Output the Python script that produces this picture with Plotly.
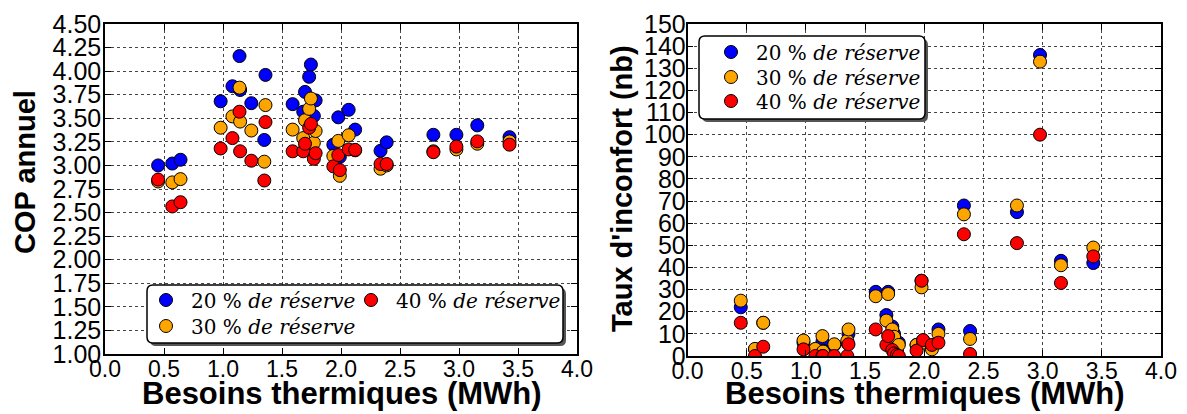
import plotly.graph_objects as go

# Besoins thermiques (MWh) for each simulated case
besoins = [0.45, 0.57, 0.64, 0.98, 1.08, 1.14, 1.145, 1.24, 1.35, 1.36,
           1.59, 1.68, 1.695, 1.73, 1.745, 1.77, 1.785, 1.935, 1.977, 1.99,
           2.065, 2.12, 2.335, 2.387, 2.783, 2.978, 3.155, 3.428]

# COP annuel
cop_20 = [3.00, 3.02, 3.06, 3.68, 3.84, 4.16, 3.80, 3.66, 3.27, 3.96,
          3.65, 3.57, 3.78, 3.94, 4.07, 3.525, 3.69, 3.22, 3.51, 3.09,
          3.59, 3.38, 3.155, 3.245, 3.325, 3.325, 3.425, 3.30]
cop_30 = [2.83, 2.82, 2.855, 3.40, 3.52, 3.825, 3.465, 3.37, 3.04, 3.64,
          3.38, 3.29, 3.48, 3.60, 3.71, 3.24, 3.365, 3.10, 3.26, 2.89,
          3.32, 3.16, 2.965, 3.00, 3.15, 3.17, 3.23, 3.255]
cop_40 = [2.85, 2.565, 2.61, 3.18, 3.29, 3.57, 3.15, 3.05, 2.84, 3.46,
          3.15, 3.15, 3.23, 3.40, 3.44, 3.07, 3.13, 2.99, 3.11, 2.95,
          3.17, 3.165, 3.015, 3.015, 3.14, 3.20, 3.255, 3.22]

# Taux d'inconfort (nb)
inc_20 = [22, 3, 15, 6, 3, 6.5, 2.4, 5, 6, 10,
          29, 18.5, 29, 13.3, 10, 4, 6, 5, 34, 7,
          4, 12, 68, 11.3, 65, 136, 43, 42]
inc_30 = [25, 3.2, 15, 7, 3.2, 9, 2, 5.3, 6.9, 12,
          27, 16, 28, 12, 8.7, 2.7, 5, 5, 31, 6,
          3, 10, 64, 7.7, 68, 133, 41, 49]
inc_40 = [15, 0, 4.2, 3, 0, 0, 0, 0, 0, 5.3,
          12, 5, 9, 2.7, 1.2, 0.5, 0, 2.4, 34, 7.2,
          5, 6, 55, 0.9, 51, 100, 33, 45]

series_names = ["20 % <i>de réserve</i>", "30 % <i>de réserve</i>", "40 % <i>de réserve</i>"]
colors = ["#0000ff", "#ffa500", "#ff0000"]

W, H = 1187, 414

def px(x):
    return x / W

def py(y):
    return 1 - y / H

fig = go.Figure()

left_legends = ["legend", "legend4", "legend3"]      # 20 (row1 col1), 30 (row2), 40 (row1 col2)
right_legends = ["legend2", "legend5", "legend6"]
for name, col, vals, lg in zip(series_names, colors, [cop_20, cop_30, cop_40], left_legends):
    fig.add_trace(go.Scatter(
        x=besoins, y=vals, mode="markers", name=name,
        marker=dict(color=col, size=13, line=dict(color="black", width=1)),
        xaxis="x", yaxis="y", legend=lg))

for name, col, vals, lg in zip(series_names, colors, [inc_20, inc_30, inc_40], right_legends):
    fig.add_trace(go.Scatter(
        x=besoins, y=vals, mode="markers", name=name,
        marker=dict(color=col, size=13, line=dict(color="black", width=1)),
        xaxis="x2", yaxis="y2", legend=lg))

axis_common = dict(
    showline=True, linecolor="black", linewidth=1.5, mirror="allticks",
    ticks="inside", ticklen=6, tickcolor="black", tickwidth=1,
    showgrid=True, gridcolor="#444", griddash="dot", gridwidth=1,
    zeroline=False, color="black", automargin=False,
)
sans = "Liberation Sans, Arial, sans-serif"
serif = "DejaVu Serif, serif"

def leg(x_text_start, y_center):
    return dict(x=px(x_text_start - 49), y=py(y_center), xanchor="left", yanchor="middle",
                orientation="v", itemwidth=40,
                font=dict(family=serif, size=20, color="black"),
                bgcolor="rgba(0,0,0,0)", borderwidth=0)

fig.update_layout(
    template="none",
    width=W, height=H,
    margin=dict(l=0, r=0, t=0, b=0, autoexpand=False),
    paper_bgcolor="white", plot_bgcolor="white",
    font=dict(family=sans, color="black"),
    xaxis=dict(domain=[px(105), px(577)], range=[0, 4], dtick=0.5, tickformat=".1f",
               anchor="y", tickfont=dict(size=23), ticklabelstandoff=-6, **axis_common),
    yaxis=dict(domain=[py(354), py(24)], range=[1, 4.5], dtick=0.25, tickformat=".2f",
               anchor="x", tickfont=dict(size=25), ticklabelstandoff=-3, **axis_common),
    xaxis2=dict(domain=[px(687.5), px(1161)], range=[0, 4], dtick=0.5, tickformat=".1f",
                anchor="y2", tickfont=dict(size=23), ticklabelstandoff=-6, **axis_common),
    yaxis2=dict(domain=[py(356), py(24)], range=[0, 150], dtick=10,
                anchor="x2", tickfont=dict(size=25), ticklabelstandoff=-5, **axis_common),
    legend=leg(190, 300),
    legend3=leg(395, 300),
    legend4=leg(190, 326),
    legend2=leg(755, 52),
    legend5=leg(755, 77),
    legend6=leg(755, 101),
    showlegend=True,
)

def rounded_box(x0, y0, x1, y1, r):
    pts = [
        f"M {px(x0 + r)},{py(y0)}",
        f"L {px(x1 - r)},{py(y0)}",
        f"Q {px(x1)},{py(y0)} {px(x1)},{py(y0 + r)}",
        f"L {px(x1)},{py(y1 - r)}",
        f"Q {px(x1)},{py(y1)} {px(x1 - r)},{py(y1)}",
        f"L {px(x0 + r)},{py(y1)}",
        f"Q {px(x0)},{py(y1)} {px(x0)},{py(y1 - r)}",
        f"L {px(x0)},{py(y0 + r)}",
        f"Q {px(x0)},{py(y0)} {px(x0 + r)},{py(y0)}",
        "Z",
    ]
    return " ".join(pts)

for (x0, y0, x1, y1) in [(147, 285, 563, 343), (699, 36, 925, 119)]:
    fig.add_shape(type="path", xref="paper", yref="paper", layer="above",
                  path=rounded_box(x0 + 3, y0 + 3, x1 + 3, y1 + 3, 6),
                  fillcolor="#555555", line=dict(width=0))
    fig.add_shape(type="path", xref="paper", yref="paper", layer="above",
                  path=rounded_box(x0, y0, x1, y1, 6),
                  fillcolor="white", line=dict(color="black", width=1.5))

xtitle_font = dict(family=sans, size=31, color="black", weight="bold")
ytitle_font = dict(family=sans, size=29, color="black", weight="bold")
fig.add_annotation(text="Besoins thermiques (MWh)", xref="paper", yref="paper",
                   x=px(342), y=py(393), xanchor="center", yanchor="middle",
                   showarrow=False, font=xtitle_font)
fig.add_annotation(text="Besoins thermiques (MWh)", xref="paper", yref="paper",
                   x=px(925), y=py(393), xanchor="center", yanchor="middle",
                   showarrow=False, font=xtitle_font)
fig.add_annotation(text="COP annuel", xref="paper", yref="paper",
                   x=px(25), y=py(172), xanchor="center", yanchor="middle",
                   textangle=-90, showarrow=False, font=ytitle_font)
fig.add_annotation(text="Taux d'inconfort (nb)", xref="paper", yref="paper",
                   x=px(622), y=py(189), xanchor="center", yanchor="middle",
                   textangle=-90, showarrow=False, font=ytitle_font)

fig.write_html("out.html", config={"displayModeBar": False},
               post_script="document.body.style.margin='0';")
